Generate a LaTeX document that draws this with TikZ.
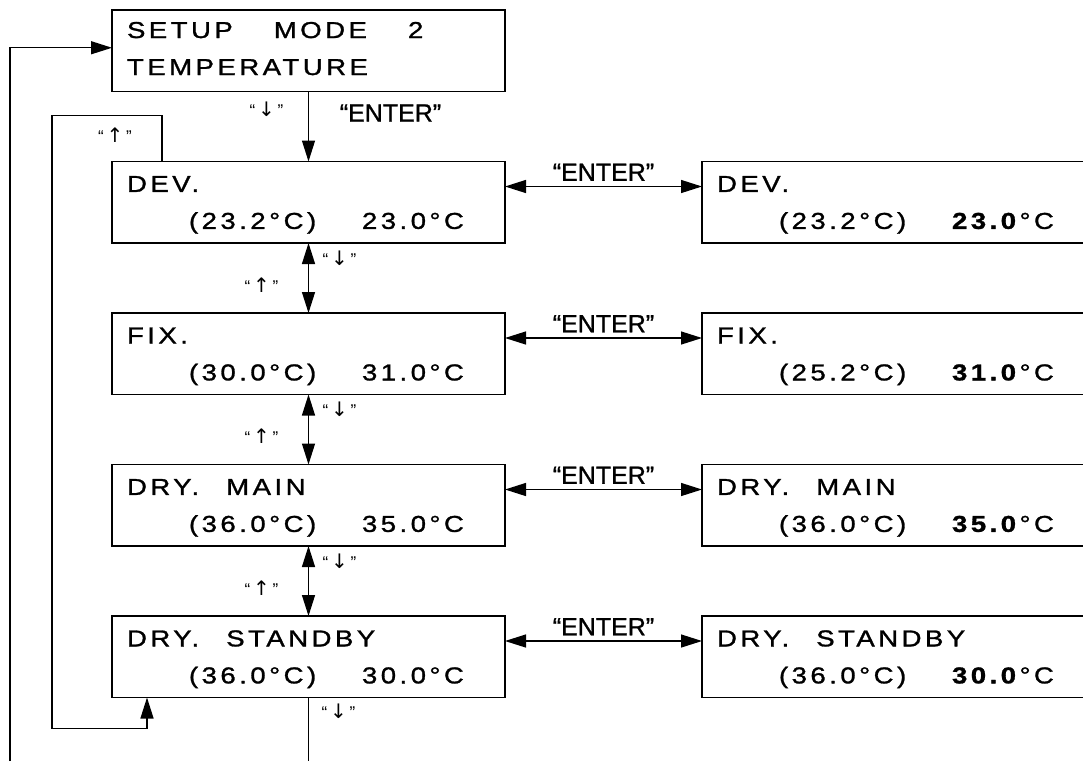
\documentclass[tikz,border=0pt]{standalone}
\usepackage{fontspec,tikz}
\usetikzlibrary{positioning,calc,arrows.meta}
\setmainfont{Liberation Sans}
\newfontfamily\lcdfont[FakeStretch=1.2,FakeBold=1.2,LetterSpace=15]{Liberation Sans}
\newfontfamily\enterfont[FakeBold=1]{Liberation Sans}
\newfontfamily\symfont{DejaVu Sans}
\newcommand{\tval}[2]{\hspace*{62pt}\makebox[173pt][l]{#1}#2}
\newcommand{\keyup}{“\,{\symfont\fontsize{20}{20}\selectfont↑}\,”}
\newcommand{\keydn}{“\,{\symfont\fontsize{20}{20}\selectfont↓}\,”}

\begin{document}
\begin{tikzpicture}[x=1pt,y=1pt,line width=1.3pt,
    lcd/.style={draw,line width=1.6pt,outer sep=0pt,minimum width=393pt,minimum height=81.5pt,text width=363pt,inner xsep=15pt,inner ysep=0pt,align=left,font=\lcdfont\fontsize{23}{37}\selectfont,execute at begin node=\rule{0pt}{21pt}},
    key/.style={font=\fontsize{17}{18}\selectfont,inner sep=0pt},
    enter/.style={font=\enterfont\fontsize{25}{28}\selectfont,inner sep=0pt},
    tip/.style={-{Triangle[length=21pt,width=13pt]}},
    tips/.style={{Triangle[length=21pt,width=13pt]}-{Triangle[length=21pt,width=13pt]}}]
    \useasboundingbox (0,0) rectangle (1083,-761);
    \node[lcd,anchor=north west] (setup) at (112,-10) {SETUP\hspace{41pt}MODE\hspace{41pt}2\\TEMPERATURE\rule[-9.5pt]{0pt}{9.5pt}};
    \node[lcd,below=70pt of setup] (dev) {DEV.\\\tval{(23.2°C)}{23.0°C}};
    \node[lcd,below=70pt of dev] (fix) {FIX.\\\tval{(30.0°C)}{31.0°C}};
    \node[lcd,below=70pt of fix] (main) {DRY.\hspace{27pt}MAIN\\\tval{(36.0°C)}{35.0°C}};
    \node[lcd,below=70pt of main] (standby) {DRY.\hspace{27pt}STANDBY\\\tval{(36.0°C)}{30.0°C}};
    \node[lcd,right=197pt of dev] (set-dev) {DEV.\\\tval{(23.2°C)}{\textbf{23.0}°C}};
    \node[lcd,right=197pt of fix] (set-fix) {FIX.\\\tval{(25.2°C)}{\textbf{31.0}°C}};
    \node[lcd,right=197pt of main] (set-main) {DRY.\hspace{27pt}MAIN\\\tval{(36.0°C)}{\textbf{35.0}°C}};
    \node[lcd,right=197pt of standby] (set-standby) {DRY.\hspace{27pt}STANDBY\\\tval{(36.0°C)}{\textbf{30.0}°C}};
    \coordinate (exitL) at (10,-761);
    \coordinate (exitB) at (standby.south |- exitL);
    \draw[tip] (setup) -- (dev);
    \node[key] (setup-dn) at ($(setup.south)+(-42,-18)$) {\keydn};
    \node[enter] (setup-enter) at ($(setup.south)+(82,-21.5)$) {“ENTER”};
    \foreach \a/\b in {dev/fix,fix/main,main/standby}{
      \draw[tips] (\a) -- (\b);
      \node[key] (\a-dn) at ($(\a.south)+(31,-15)$) {\keydn};
      \node[key] (\a-up) at ($(\a.south)+(-47,-42)$) {\keyup};
    }
    \foreach \a in {dev,fix,main,standby}{
      \draw[tips] ([yshift=-25pt]\a.north east) -- ([yshift=-25pt]set-\a.north west) node[enter,midway,above=5pt] (\a-enter) {“ENTER”};
    }
    \draw[tip] ([xshift=50pt]dev.north west) |- ++(-110,46) |- ++(95,-613) -- ([xshift=35pt]standby.south west);
    \node[key] (dev-up) at ($(dev.north west)+(3,26.5)$) {\keyup};
    \draw (standby) -- (exitB);
    \node[key] (standby-dn) at ($(standby.south)+(30,-14)$) {\keydn};
    \draw[tip] (exitL) |- ([yshift=3pt]setup.west);
\end{tikzpicture}
\end{document}
